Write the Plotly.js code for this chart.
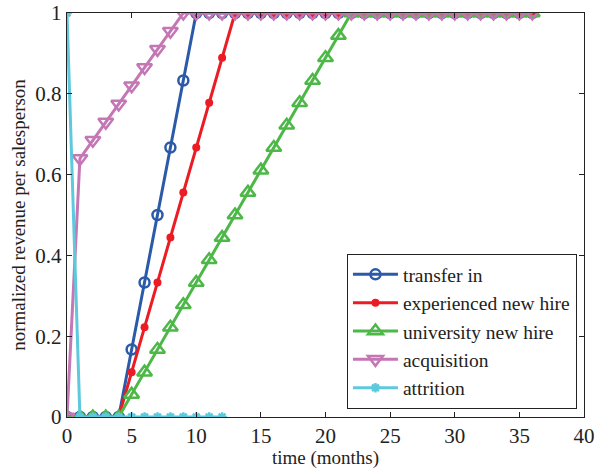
<!DOCTYPE html>
<html>
<head>
<meta charset="utf-8">
<script src="https://cdn.plot.ly/plotly-3.0.1.min.js"></script>
<style>body{margin:0;background:#fff}#chart{width:603px;height:469px}</style>
</head>
<body>
<div id="chart"></div>
<script>
// months for each series
const monthsLong = [0,1,2,3,4,5,6,7,8,9,10,11,12,13,14,15,16,17,18,19,20,21,22,23,24,25,26,27,28,29,30,31,32,33,34,35,36];
const monthsAttrition = [0,1,2,3,4,5,6,7,8,9,10,11,12];

const transferIn = [0,0,0,0,0,0.167,0.333,0.5,0.667,0.833,1,1,1,1,1,1,1,1,1,1,1,1,1,1,1,1,1,1,1,1,1,1,1,1,1,1,1];
const experiencedNewHire = [0,0,0,0,0,0.111,0.222,0.333,0.444,0.556,0.667,0.778,0.889,1,1,1,1,1,1,1,1,1,1,1,1,1,1,1,1,1,1,1,1,1,1,1,1];
const universityNewHire = [0,0,0,0,0,0.056,0.111,0.167,0.222,0.278,0.333,0.389,0.444,0.5,0.556,0.611,0.667,0.722,0.778,0.833,0.889,0.944,1,1,1,1,1,1,1,1,1,1,1,1,1,1,1];
const acquisition = [0,0.64,0.685,0.73,0.775,0.82,0.865,0.91,0.955,1,1,1,1,1,1,1,1,1,1,1,1,1,1,1,1,1,1,1,1,1,1,1,1,1,1,1,1];
const attrition = [1,0,0,0,0,0,0,0,0,0,0,0,0];

const seriesNames = ["transfer in","experienced new hire","university new hire","acquisition","attrition"];
const xTicks = [0,5,10,15,20,25,30,35,40];
const yTicks = [0,0.2,0.4,0.6,0.8,1];

const traces = [
  {x: monthsLong, y: transferIn, name: seriesNames[0], mode: "lines+markers",
   line: {color: "#2b5ba8", width: 3},
   marker: {symbol: "circle-open", size: 10, color: "#2b5ba8", line: {width: 2.5, color: "#2b5ba8"}}},
  {x: monthsLong, y: experiencedNewHire, name: seriesNames[1], mode: "lines+markers",
   line: {color: "#ec1c24", width: 3},
   marker: {symbol: "circle", size: 8, color: "#ec1c24"}},
  {x: monthsLong, y: universityNewHire, name: seriesNames[2], mode: "lines+markers",
   line: {color: "#4db848", width: 3},
   marker: {symbol: "triangle-up-open", size: 13, color: "#4db848", line: {width: 2.5, color: "#4db848"}}},
  {x: monthsLong, y: acquisition, name: seriesNames[3], mode: "lines+markers",
   line: {color: "#c576b5", width: 3},
   marker: {symbol: "triangle-down-open", size: 13, color: "#c576b5", line: {width: 2.5, color: "#c576b5"}}},
  {x: monthsAttrition, y: attrition, name: seriesNames[4], mode: "lines+markers",
   line: {color: "#5ec8dc", width: 3},
   marker: {symbol: "asterisk-open", size: 8, color: "#5ec8dc", line: {width: 2.5, color: "#5ec8dc"}}}
];

const serif = "Liberation Serif";
const tickFont = {family: serif, size: 21, color: "#222"};
const titleFont = {family: serif, size: 19, color: "#222"};
const legendFont = {family: serif, size: 19.5, color: "#222"};

const layout = {
  width: 603, height: 469,
  margin: {l: 67, r: 19, t: 13, b: 52},
  paper_bgcolor: "#fff", plot_bgcolor: "#fff",
  font: {family: serif, size: 19, color: "#222"},
  showlegend: true,
  xaxis: {
    range: [0, 40], tickvals: xTicks, ticks: "inside", ticklen: 5, tickcolor: "#222",
    showline: true, linecolor: "#222", linewidth: 1.2, mirror: "ticks", showgrid: false, zeroline: false,
    title: {text: "time (months)", font: titleFont, standoff: 3},
    tickfont: tickFont, ticklabeloverflow: "allow"
  },
  yaxis: {
    range: [0, 1], tickvals: yTicks, ticks: "inside", ticklen: 5, tickcolor: "#222",
    showline: true, linecolor: "#222", linewidth: 1.2, mirror: "ticks", showgrid: false, zeroline: false,
    title: {text: "normalized revenue per salesperson", font: titleFont, standoff: 4},
    tickfont: tickFont, ticklabeloverflow: "allow"
  },
  legend: {
    x: 0.986, xanchor: "right", y: 0.02, yanchor: "bottom",
    bgcolor: "#fff", bordercolor: "#222", borderwidth: 1.2,
    font: legendFont, tracegroupgap: 0, itemwidth: 45
  }
};

Plotly.newPlot("chart", traces, layout, {staticPlot: true, displayModeBar: false});
</script>
</body>
</html>
